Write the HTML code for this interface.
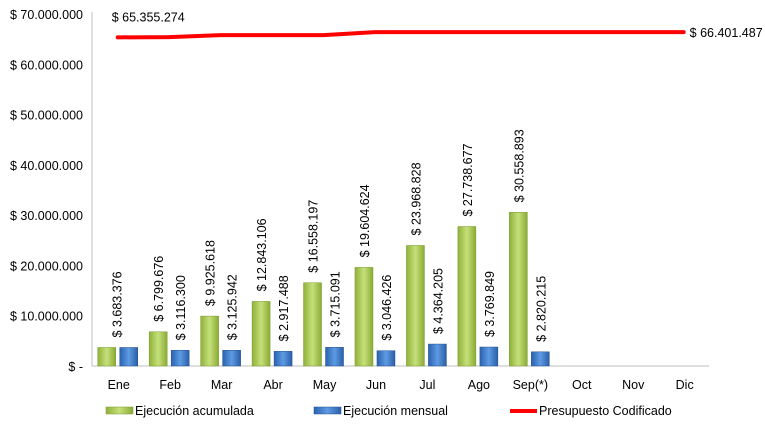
<!DOCTYPE html>
<html><head><meta charset="utf-8"><style>
body{margin:0;background:#fff;font-family:"Liberation Sans",sans-serif;}
svg text{font-family:"Liberation Sans",sans-serif;fill:#000;}
</style></head><body>
<svg id="c" width="765" height="435" xmlns="http://www.w3.org/2000/svg">
<defs>
<linearGradient id="gg" x1="0" x2="1"><stop offset="0" stop-color="#8fb13a"/><stop offset="0.5" stop-color="#c6e07a"/><stop offset="1" stop-color="#8aab35"/></linearGradient>
<linearGradient id="bg" x1="0" x2="1"><stop offset="0" stop-color="#2a62b0"/><stop offset="0.5" stop-color="#5d9be3"/><stop offset="1" stop-color="#2a5ea8"/></linearGradient>
</defs>
<g id="axes"></g><g id="marks"></g>
</svg>
<script>
const categories=["Ene","Feb","Mar","Abr","May","Jun","Jul","Ago","Sep(*)","Oct","Nov","Dic"];
const acumulada=[3683376,6799676,9925618,12843106,16558197,19604624,23968828,27738677,30558893];
const mensual=[3683376,3116300,3125942,2917488,3715091,3046426,4364205,3769849,2820215];
const presupuesto=[65355274,65400000,65800000,65800000,65800000,66401487,66401487,66401487,66401487,66401487,66401487,66401487];
const yTicks=[0,10000000,20000000,30000000,40000000,50000000,60000000,70000000];
const NS="http://www.w3.org/2000/svg";
const svg=document.getElementById('c'),ax=document.getElementById('axes'),mk=document.getElementById('marks');
const x0=92,step=51.45,yb=366,ppu=352/70000000;
const cx=i=>x0+step*(i+0.5);
const y=v=>yb-v*ppu;
function el(t,a,p,txt){const e=document.createElementNS(NS,t);for(const k in a)e.setAttribute(k,a[k]);if(txt!==undefined)e.textContent=txt;p.appendChild(e);return e;}
const fmt=v=>"$ "+Math.round(v).toString().replace(/\B(?=(\d{3})+(?!\d))/g,".");
let a=el('line',{x1:x0,x2:x0,y1:12,y2:yb,stroke:'#bfbfbf'},ax);


a=el('line',{x1:x0,x2:709,y1:yb,y2:yb,stroke:'#bfbfbf'},ax);


yTicks.forEach(v=>{const t=el('text',{x:83,y:y(v)+5,'text-anchor':'end','font-size':12.5},ax,v===0?"$ -":fmt(v));

});
categories.forEach((c,i)=>{const t=el('text',{x:cx(i)+1,y:389,'text-anchor':'middle','font-size':12.5},ax,c);

});
acumulada.forEach((v,i)=>{const x=cx(i)-20;
const r=el('rect',{x:x,y:y(v),width:18,height:yb-y(v),fill:'url(#gg)',stroke:'#7a9a2e','stroke-width':0.5},mk);


const lx=i===0?cx(i)+4:x+14;
const t=el('text',{transform:`translate(${lx},${y(Math.max(v,mensual[i]))-10}) rotate(-90)`,'font-size':12.5},mk,fmt(v));

});
mensual.forEach((v,i)=>{const x=cx(i)+2;
const r=el('rect',{x:x,y:y(v),width:18,height:yb-y(v),fill:'url(#bg)',stroke:'#23508f','stroke-width':0.5},mk);


if(i===0)return;
const t=el('text',{transform:`translate(${x+14},${y(v)-10}) rotate(-90)`,'font-size':12.5},mk,fmt(v));

});
const pl=el('polyline',{points:presupuesto.map((v,i)=>cx(i)+','+y(v)).join(' '),fill:'none',stroke:'#ff0000','stroke-width':4,'stroke-linecap':'round'},mk);


let t=el('text',{x:cx(0)-6,y:y(presupuesto[0])-16,'font-size':12.5},mk,fmt(presupuesto[0]));


t=el('text',{x:cx(11)+6,y:y(presupuesto[11])+5,'font-size':12.5},mk,fmt(presupuesto[11]));


const lg=el('g',{},svg);


let r=el('rect',{x:106,y:407,width:27,height:7,fill:'url(#gg)',stroke:'#7a9a2e','stroke-width':0.5},lg);


t=el('text',{x:135,y:415,'font-size':12.5},lg,"Ejecución acumulada");


r=el('rect',{x:314,y:407,width:27,height:7,fill:'url(#bg)',stroke:'#23508f','stroke-width':0.5},lg);


t=el('text',{x:343,y:415,'font-size':12.5},lg,"Ejecución mensual");


r=el('line',{x1:510,x2:537,y1:411,y2:411,stroke:'#ff0000','stroke-width':4},lg);


t=el('text',{x:539,y:415,'font-size':12.5},lg,"Presupuesto Codificado");


</script>
</body></html>
